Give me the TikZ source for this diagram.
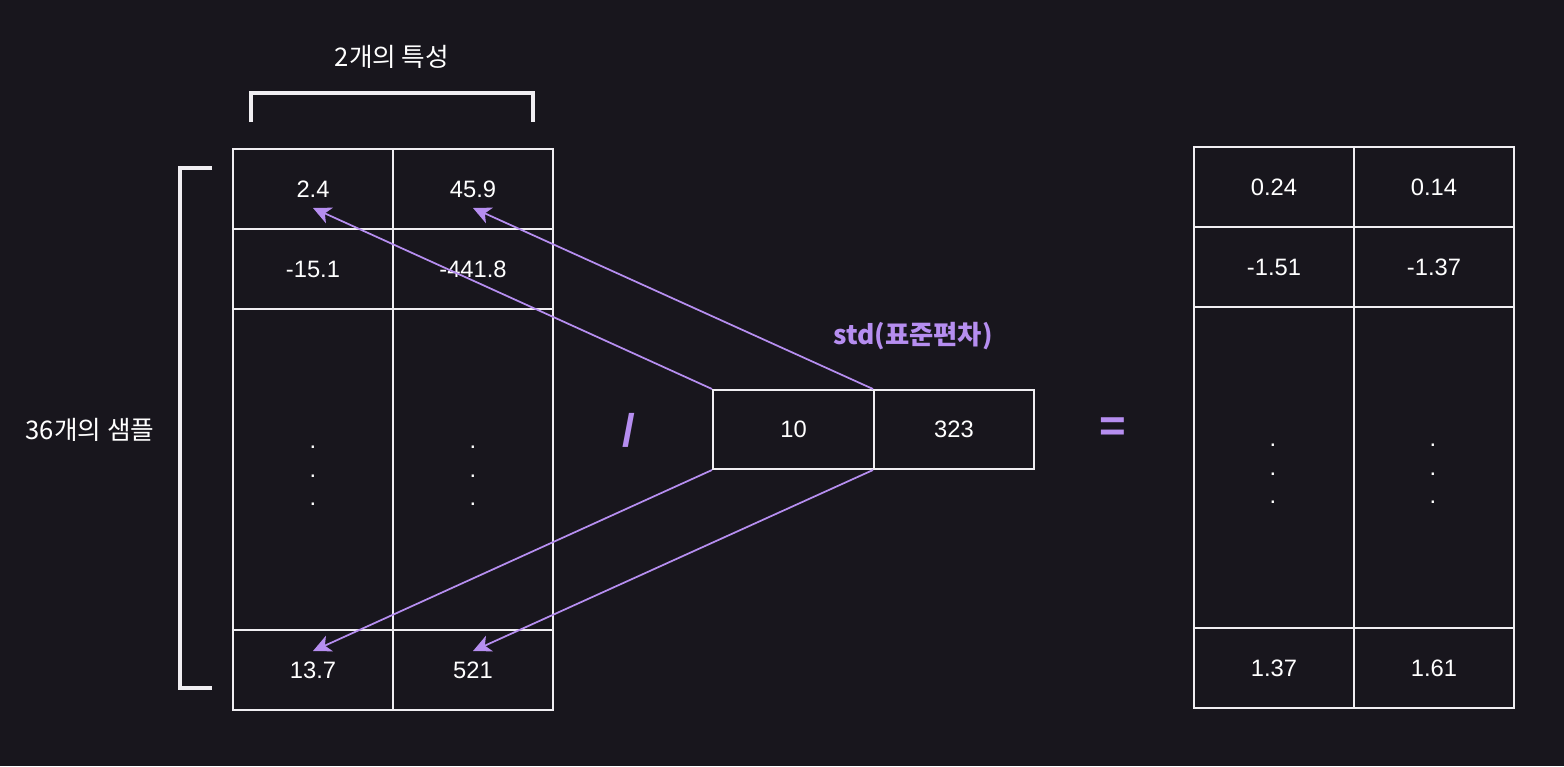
\documentclass[tikz,border=0pt]{standalone}
\usepackage{fontspec}
\setmainfont{Liberation Sans}
\newfontfamily\kr{Noto Sans CJK KR}
\usetikzlibrary{arrows.meta}
\definecolor{bg}{HTML}{18161D}
\definecolor{purp}{HTML}{B68EF0}
\definecolor{edge}{HTML}{F0EEF2}
\tikzset{
  cell/.style={draw=edge, line width=0.4mm, minimum width=32mm, minimum height=16mm, inner sep=0pt, text=white, font=\fontsize{13.5pt}{16pt}\selectfont},
  tallcell/.style={cell, minimum height=64.2mm},
  dot/.style={text=white, inner sep=0pt, font=\fontsize{13.5pt}{16pt}\selectfont},
  label/.style={text=white, font=\kr\fontsize{14.6pt}{17pt}\selectfont},
  bracket/.style={draw=edge, line width=0.8mm},
  pointer/.style={draw=purp, line width=0.35mm, -{Stealth[length=3.6mm, width=3.4mm, inset=1mm]}},
  sign/.style={text=purp, font=\bfseries\fontsize{26pt}{30pt}\selectfont}
}
\begin{document}
\begin{tikzpicture}[x=0.2mm, y=-0.2mm]
\fill[bg] (0,0) rectangle (1564,766);
\useasboundingbox (0,0) rectangle (1564,766);

% input matrix
\foreach \n/\x/\y/\t in {a11/313/189/2.4, a12/473/189/45.9, a21/313/269/-15.1, a22/473/269/-441.8, a41/313/670/13.7, a42/473/670/521}
	\node[cell] (\n) at (\x,\y) {\t};
\node[tallcell] (a31) at (313,469.5) {};
\node[tallcell] (a32) at (473,469.5) {};

% result matrix
\foreach \n/\x/\y/\t in {b11/1274/187/0.24, b12/1434/187/0.14, b21/1274/267/-1.51, b22/1434/267/-1.37, b41/1274/668/1.37, b42/1434/668/1.61}
	\node[cell] (\n) at (\x,\y) {\t};
\node[tallcell] (b31) at (1274,467.5) {};
\node[tallcell] (b32) at (1434,467.5) {};

\foreach \i/\x/\y in {1/313/447,2/313/476,3/313/504,4/473/447,5/473/476,6/473/504,7/1273/445,8/1273/474,9/1273/502,10/1433/445,11/1433/474,12/1433/502}
	\node[dot] (d\i) at (\x,\y) {.};

% std row
\node[cell, minimum width=32.2mm, minimum height=15.8mm] (s1) at (793.5,429.5) {10};
\node[cell, minimum width=32.0mm, minimum height=15.8mm] (s2) at (954,429.5) {323};
\node[text=purp, font=\bfseries\kr\fontsize{15pt}{18pt}\selectfont] (std) at (913,336) {std(표준편차)};

\node[sign] (div) at (629,430) {/};
\node[sign] (eq) at (1113,430) {=};

\draw[pointer] (s1.north west) -- ([yshift=-3.8mm]a11.center);
\draw[pointer] (s2.north west) -- ([yshift=-3.8mm]a12.center);
\draw[pointer] (s1.south west) -- ([yshift=3.8mm]a41.center);
\draw[pointer] (s2.south west) -- ([yshift=3.8mm]a42.center);

% brackets
\draw[bracket] (251,122) -- (251,93) -- (533,93) -- (533,122);
\draw[bracket] (212,168) -- (180,168) -- (180,688) -- (212,688);
\node[label] (feat) at (392,57) {2개의 특성};
\node[label] (samp) at (90,430) {36개의 샘플};
\end{tikzpicture}
\end{document}
